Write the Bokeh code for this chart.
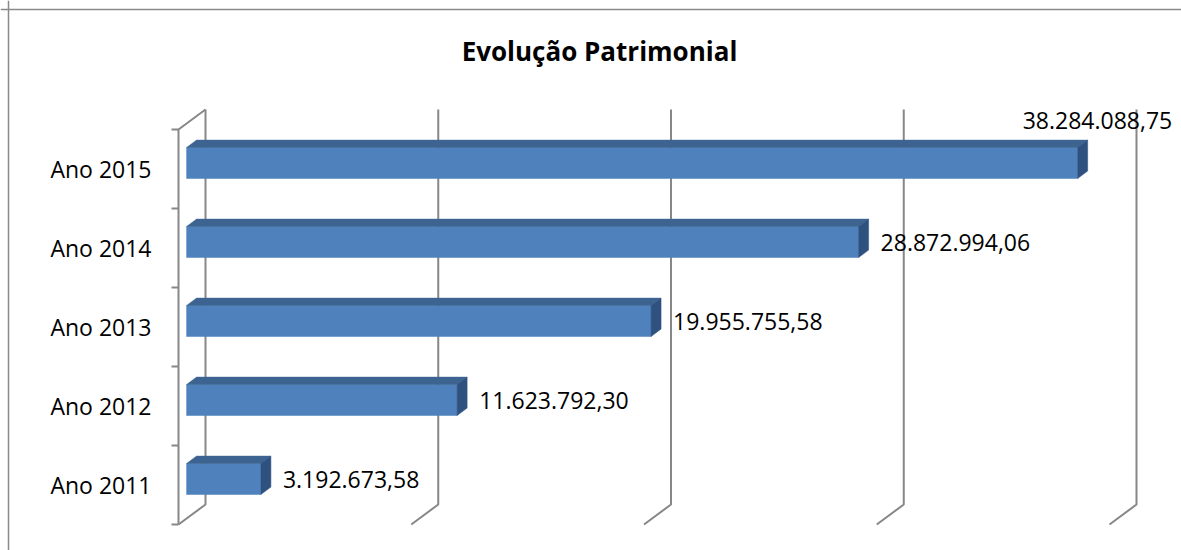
from bokeh.plotting import figure
from bokeh.models import Range1d, Span
from bokeh.core.properties import value
from bokeh.embed import file_html
from bokeh.resources import INLINE

# ---- data ----
categories = ["Ano 2011", "Ano 2012", "Ano 2013", "Ano 2014", "Ano 2015"]
values = [3192673.58, 11623792.30, 19955755.58, 28872994.06, 38284088.75]
grid_values = [0, 10e6, 20e6, 30e6, 40e6]
title_text = "Evolução Patrimonial"

# ---- layout constants (pixels) ----
W, H = 1181, 550
KX = 23.275 / 1e6      # px per value unit
KY = 79.0              # px per category slot
X0 = 178.0             # px of value 0 (front plane)
Y0 = 484.5             # px (from top) of first category centre


def px_x(px):
    return px / KX


def px_y(px):
    return px / KY


def fmt(v):
    s = f"{v:,.2f}"
    return s.replace(",", "X").replace(".", ",").replace("X", ".")


DX, DY = px_x(27), px_y(20)      # full depth offset of the walls
ZF, ZB = 0.30, 0.67              # bar front / back depth
HH = px_y(15.5)                  # half bar height
GRID = "#878787"
FONT = value("Open Sans")

p = figure(width=W, height=H, output_backend="svg", toolbar_location=None,
           x_range=Range1d(-X0 / KX, (W - X0) / KX),
           y_range=Range1d((Y0 - H) / KY, Y0 / KY),
           min_border=0)
p.xaxis.visible = False
p.yaxis.visible = False
p.grid.visible = False
p.outline_line_color = None
p.background_fill_color = "white"
p.border_fill_color = "white"

# chart border (top and left, the rest lies beyond the window)
p.add_layout(Span(location=(Y0 - 9) / KY, dimension="width",
                  line_color="#8a8a8a", line_width=1.5))
p.add_layout(Span(location=(8 - X0) / KX, dimension="height",
                  line_color="#8a8a8a", line_width=1.5))

# ---- 3D walls / gridlines ----
n = len(categories)
y_lo, y_hi = -0.5, n - 0.5
xs, ys = [], []
for g in grid_values:
    # back vertical + floor diagonal
    xs.append([g + DX, g + DX, g])
    ys.append([y_hi + DY, y_lo + DY, y_lo])
# left wall front edge and top diagonal
xs.append([DX, 0, 0])
ys.append([y_hi + DY, y_hi, y_lo])
# category ticks
for j in range(n + 1):
    xs.append([-px_x(7), 0])
    ys.append([y_lo + j, y_lo + j])
p.multi_line(xs, ys, line_color=GRID, line_width=2)

# ---- bars ----
dz = ZB - ZF
front_l, front_r, front_b, front_t = [], [], [], []
top_x, top_y, side_x, side_y = [], [], [], []
for i, v in enumerate(values):
    cy = i + ZF * DY
    xl, xr = ZF * DX, v + ZF * DX
    front_l.append(xl); front_r.append(xr)
    front_b.append(cy - HH); front_t.append(cy + HH)
    top_x.append([xl, xr, xr + dz * DX, xl + dz * DX])
    top_y.append([cy + HH, cy + HH, cy + HH + dz * DY, cy + HH + dz * DY])
    side_x.append([xr, xr + dz * DX, xr + dz * DX, xr])
    side_y.append([cy + HH, cy + HH + dz * DY, cy - HH + dz * DY, cy - HH])

p.quad(left=front_l, right=front_r, bottom=front_b, top=front_t,
       fill_color="#4F81BD", line_color="#4F81BD", line_width=0.5)
p.patches(top_x, top_y, fill_color="#3D6491", line_color="#3D6491", line_width=0.5)
p.patches(side_x, side_y, fill_color="#2F5180", line_color="#2F5180", line_width=0.5)

# ---- data labels ----
lx, ly, lt, rx, ry, rt = [], [], [], [], [], []
for i, v in enumerate(values):
    cy = i + ZF * DY
    if v < 0.9 * max(grid_values):
        lx.append(v + ZF * DX + px_x(22)); ly.append(cy); lt.append(fmt(v))
    else:
        rx.append(v + ZF * DX - px_x(55)); ry.append(cy + px_y(43)); rt.append(fmt(v))
p.text(x=lx + rx, y=ly + ry, text=lt + rt, text_font=FONT, text_font_size="23px",
       text_align="left", text_baseline="middle", text_color="black")

# ---- category labels ----
p.text(x=[-px_x(27)] * n, y=list(range(n)), text=categories, text_font=FONT,
       text_font_size="23px", text_align="right", text_baseline="middle",
       text_color="black")

# ---- title ----
p.text(x=[(599 - X0) / KX], y=[(Y0 - 50) / KY], text=[title_text], text_font=FONT,
       text_font_size="26px", text_font_style="bold", text_align="center",
       text_baseline="middle", text_color="black")

open("out.html", "w").write(file_html(p, INLINE))
